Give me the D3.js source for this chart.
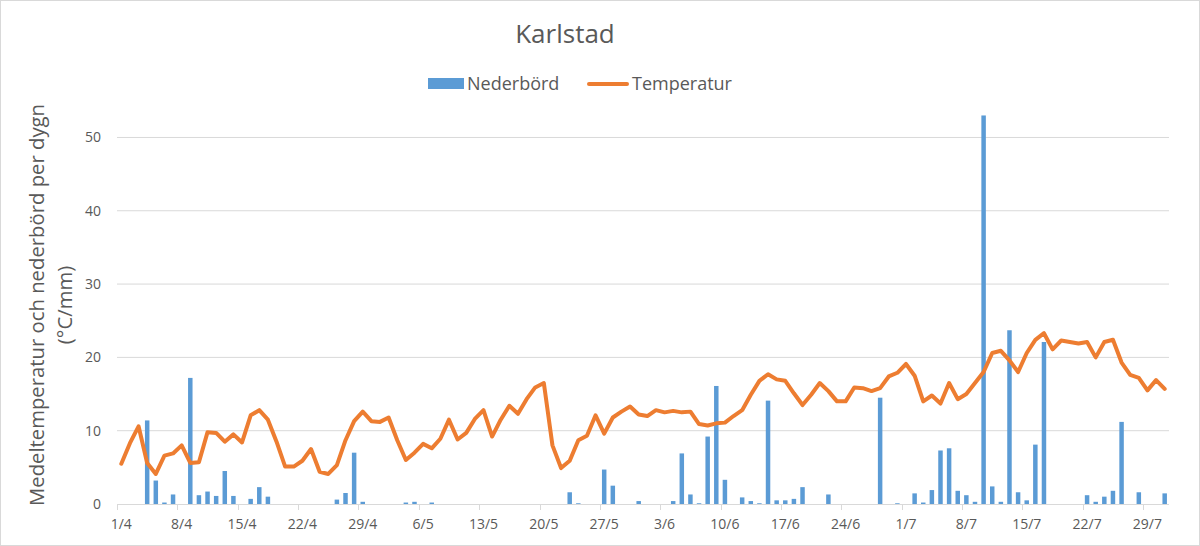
<!DOCTYPE html>
<html>
<head>
<meta charset="utf-8">
<script src="https://cdn.jsdelivr.net/npm/d3@7"></script>
<style>
  body { margin: 0; background: #fff; }
  svg { display: block; font-family: "Open Sans", sans-serif; }
</style>
</head>
<body>
<svg id="chart" width="1200" height="546"></svg>
<script>
// daglig data 1/4 - 31/7
var startDay = new Date(2018, 3, 1);
var days = d3.timeDay.range(startDay, new Date(2018, 7, 1)); // 122 dagar

var temperatur = [
  5.5, 8.3, 10.6, 5.6, 4.1, 6.6, 6.9, 8.0, 5.6, 5.7,
  9.8, 9.7, 8.5, 9.5, 8.4, 12.1, 12.8, 11.5, 8.5, 5.1,
  5.1, 5.9, 7.5, 4.4, 4.1, 5.3, 8.7, 11.3, 12.6, 11.3,
  11.2, 11.8, 8.7, 6.0, 7.0, 8.2, 7.6, 8.9, 11.5, 8.8,
  9.7, 11.6, 12.8, 9.2, 11.5, 13.4, 12.3, 14.3, 15.9, 16.5,
  8.0, 4.9, 5.9, 8.7, 9.3, 12.1, 9.6, 11.8, 12.6, 13.3,
  12.2, 12.0, 12.8, 12.5, 12.7, 12.5, 12.6, 10.9, 10.7, 11.0,
  11.1, 12.0, 12.8, 14.9, 16.8, 17.7, 17.0, 16.8, 15.1, 13.5,
  14.9, 16.5, 15.4, 14.0, 14.0, 15.9, 15.8, 15.4, 15.8, 17.4,
  17.9, 19.1, 17.5, 14.0, 14.8, 13.7, 16.5, 14.3, 15.0, 16.5,
  18.0, 20.6, 20.9, 19.6, 18.0, 20.6, 22.4, 23.3, 21.1, 22.3,
  22.1, 21.9, 22.1, 20.0, 22.1, 22.4, 19.3, 17.6, 17.2, 15.5,
  16.9, 15.7
];

var nederbord = [
  0, 0, 0, 11.4, 3.2, 0.2, 1.3, 0, 17.2, 1.2,
  1.7, 1.1, 4.5, 1.1, 0, 0.7, 2.3, 1.0, 0, 0,
  0, 0, 0, 0, 0, 0.6, 1.5, 7.0, 0.3, 0,
  0, 0, 0, 0.2, 0.3, 0, 0.2, 0, 0, 0,
  0, 0, 0, 0, 0, 0, 0, 0, 0, 0,
  0, 0, 1.6, 0.1, 0, 0, 4.7, 2.5, 0, 0,
  0.4, 0, 0, 0, 0.4, 6.9, 1.3, 0.1, 9.2, 16.1,
  3.3, 0, 0.9, 0.4, 0.1, 14.1, 0.5, 0.5, 0.7, 2.3,
  0, 0, 1.3, 0, 0, 0, 0, 0, 14.5, 0,
  0.1, 0, 1.45, 0.2, 1.9, 7.3, 7.6, 1.8, 1.2, 0.3,
  53.0, 2.4, 0.3, 23.7, 1.6, 0.5, 8.1, 22.1, 0, 0,
  0, 0, 1.2, 0.3, 1.0, 1.8, 11.2, 0, 1.6, 0,
  0, 1.45
];

var xTickLabels = ["1/4", "8/4", "15/4", "22/4", "29/4", "6/5", "13/5", "20/5", "27/5",
  "3/6", "10/6", "17/6", "24/6", "1/7", "8/7", "15/7", "22/7", "29/7"];
var yTicks = [0, 10, 20, 30, 40, 50];

var blue = "#5b9bd5", orange = "#ed7d31", textCol = "#595959", gridCol = "#d9d9d9";

var svg = d3.select("#chart");

// ram runt diagrammet
svg.append("rect")
  .attr("x", 0.5).attr("y", 0.5).attr("width", 1199).attr("height", 545)
  .attr("fill", "#fff").attr("stroke", gridCol);

var x = d3.scaleBand()
  .domain(d3.range(days.length))
  .range([117, 1169])
  .padding(0);

var y = d3.scaleLinear()
  .domain([0, 55])
  .range([504, 100.8]);

// stödlinjer
svg.append("g").selectAll("line")
  .data(yTicks.slice(1))
  .enter().append("line")
  .attr("x1", 117).attr("x2", 1169)
  .attr("y1", function(d) { return y(d); })
  .attr("y2", function(d) { return y(d); })
  .attr("stroke", gridCol).attr("stroke-width", 1);

// y-axel etiketter
svg.append("g").selectAll("text")
  .data(yTicks)
  .enter().append("text")
  .attr("x", 101)
  .attr("y", function(d) { return y(d) + 5; })
  .attr("text-anchor", "end")
  .attr("font-size", 14)
  .attr("fill", textCol)
  .text(function(d) { return d; });

// staplar
var bw = x.step() * 0.52;
svg.append("g").selectAll("rect")
  .data(nederbord)
  .enter().append("rect")
  .attr("x", function(d, i) { return x(i) + x.step() / 2 - bw / 2; })
  .attr("y", function(d) { return y(d); })
  .attr("width", bw)
  .attr("height", function(d) { return y(0) - y(d); })
  .attr("fill", blue);

// x-axel
svg.append("line")
  .attr("x1", 117).attr("x2", 1169)
  .attr("y1", 504.5).attr("y2", 504.5)
  .attr("stroke", gridCol).attr("stroke-width", 1);

var tickIdx = xTickLabels.map(function(d, i) { return i * 7; });
svg.append("g").selectAll("line")
  .data(tickIdx)
  .enter().append("line")
  .attr("x1", function(d) { return Math.round(x(d)) + 0.5; })
  .attr("x2", function(d) { return Math.round(x(d)) + 0.5; })
  .attr("y1", 504).attr("y2", 510)
  .attr("stroke", gridCol);

svg.append("g").selectAll("text")
  .data(xTickLabels)
  .enter().append("text")
  .attr("x", function(d, i) { return x(tickIdx[i]) + x.step() / 2; })
  .attr("y", 529)
  .attr("text-anchor", "middle")
  .attr("font-size", 14)
  .attr("fill", textCol)
  .text(function(d) { return d; });

// temperaturlinje
var line = d3.line()
  .x(function(d, i) { return x(i) + x.step() / 2; })
  .y(function(d) { return y(d); })
  .curve(d3.curveLinear);

svg.append("path")
  .datum(temperatur)
  .attr("d", line)
  .attr("fill", "none")
  .attr("stroke", orange)
  .attr("stroke-width", 4)
  .attr("stroke-linejoin", "round")
  .attr("stroke-linecap", "round");

// titel
svg.append("text")
  .attr("x", 565).attr("y", 43)
  .attr("text-anchor", "middle")
  .attr("font-size", 26)
  .attr("fill", textCol)
  .text("Karlstad");

// legend
svg.append("rect")
  .attr("x", 428).attr("y", 78).attr("width", 36).attr("height", 11)
  .attr("fill", blue);
svg.append("text")
  .attr("x", 467).attr("y", 90)
  .attr("font-size", 18)
  .attr("fill", textCol)
  .text("Nederbörd");
svg.append("line")
  .attr("x1", 589).attr("x2", 627)
  .attr("y1", 84).attr("y2", 84)
  .attr("stroke", orange).attr("stroke-width", 4)
  .attr("stroke-linecap", "round");
svg.append("text")
  .attr("x", 632).attr("y", 90)
  .attr("font-size", 18)
  .attr("fill", textCol)
  .text("Temperatur");

// y-axel titel
var yt = svg.append("text")
  .attr("transform", "translate(44,305) rotate(-90)")
  .attr("text-anchor", "middle")
  .attr("font-size", 20.3)
  .attr("fill", textCol);
yt.append("tspan").attr("x", 0).attr("dy", 0).text("Medeltemperatur och nederbörd per dygn");
yt.append("tspan").attr("x", 0).attr("dy", 28).text("(°C/mm)");
</script>
</body>
</html>
